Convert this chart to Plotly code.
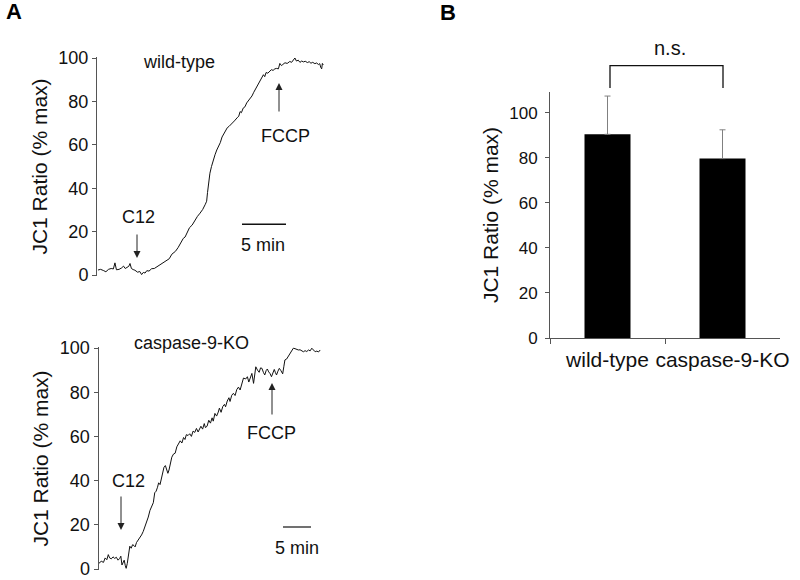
import plotly.graph_objects as go

# ---------------- data ----------------
# Panel A (top): wild-type JC1 trace, time in minutes
wt_time = [0.0, 0.3, 0.6, 0.9, 1.2, 1.5, 1.75, 1.93, 2.1, 2.4, 2.7, 2.9, 3.1, 3.3, 3.5, 3.64, 3.8, 4.0,
           4.2, 4.5, 4.75, 4.96, 5.15, 5.35, 5.55, 5.8, 6.1, 6.4, 6.7, 7.0, 7.4, 7.8, 8.1, 8.4, 8.8,
           9.1, 9.4, 9.7, 9.9, 10.1, 10.4, 10.7, 11.0, 11.3, 11.6, 11.9, 12.2, 12.35, 12.45, 12.55,
           12.72, 12.9, 13.1, 13.3, 13.5, 13.7, 13.9, 14.1, 14.3, 14.5, 14.7, 14.9, 15.2, 15.5, 15.8,
           16.0, 16.15, 16.3, 16.5, 16.7, 16.9, 17.1, 17.3, 17.5, 17.7, 17.95, 18.2, 18.4, 18.6, 18.8,
           18.95, 19.1, 19.3, 19.5, 19.7, 19.9, 20.1, 20.3, 20.5, 20.67, 20.85, 21.0, 21.25, 21.5,
           21.8, 22.0, 22.2, 22.38, 22.55, 22.76, 22.95, 23.15, 23.35, 23.55, 23.8, 24.0, 24.2, 24.4,
           24.65, 24.85, 25.05, 25.2, 25.32, 25.42, 25.5, 25.6]
wt_ratio = [2.3, 2.6, 2.1, 1.5, 2.6, 3.0, 2.8, 5.6, 2.4, 2.6, 3.3, 4.1, 3.0, 3.4, 4.0, 5.3, 3.0, 2.5,
            2.2, 1.3, 1.6, 0.2, 1.2, 0.9, 2.0, 1.8, 2.9, 3.0, 3.8, 4.4, 5.6, 6.8, 7.5, 9.6, 10.9,
            12.6, 14.6, 16.9, 17.5, 19.6, 21.8, 23.0, 25.3, 27.0, 28.5, 30.2, 32.6, 34.0, 38.0, 42.3,
            46.9, 50.0, 53.0, 55.4, 57.6, 59.2, 61.0, 63.6, 65.0, 66.8, 67.9, 68.5, 70.0, 71.0, 72.4,
            73.2, 75.3, 74.8, 76.9, 77.5, 79.3, 80.2, 81.6, 82.5, 84.2, 86.0, 88.3, 89.6, 90.5, 92.3,
            91.4, 93.3, 93.0, 94.0, 94.6, 94.3, 95.0, 95.2, 95.0, 97.5, 96.5, 97.0, 97.8, 97.5,
            98.4, 98.0, 98.8, 100.0, 98.6, 99.0, 98.0, 98.6, 98.2, 98.5, 97.9, 98.3, 97.6, 98.0,
            97.4, 97.7, 97.0, 97.4, 95.6, 95.0, 97.5, 96.8]

# Panel A (bottom): caspase-9-KO JC1 trace, time in minutes
ko_time = [0.0, 0.4, 0.8, 1.1, 1.4, 1.66, 1.9, 2.2, 2.5, 2.8, 3.1, 3.4, 3.7, 3.9, 4.1, 4.3, 4.5, 4.7,
           4.85, 5.05, 5.25, 5.5, 5.75, 6.0, 6.25, 6.45, 6.7, 7.0, 7.3, 7.6, 7.9, 8.2, 8.5, 8.8, 9.1,
           9.4, 9.7, 9.95, 10.2, 10.45, 10.65, 10.9, 11.15, 11.4, 11.6, 11.85, 12.05, 12.3, 12.5,
           12.75,
           13.0, 13.3, 13.6, 13.9, 14.2, 14.5, 14.8, 15.1, 15.35, 15.6, 15.9, 16.2, 16.5, 16.8, 17.1,
           17.4, 17.7, 17.9, 18.2, 18.5, 18.8, 19.0, 19.3, 19.6, 19.9, 20.2, 20.4, 20.7, 21.0, 21.3,
           21.5, 21.8, 22.1, 22.4, 22.6, 22.9, 23.2, 23.4, 23.7, 24.0, 24.3, 24.6, 24.9, 25.2, 25.5,
           25.8,
           26.2, 26.5, 26.75, 27.0, 27.3, 27.6, 27.8, 28.0, 28.3, 28.6, 28.85, 29.1, 29.35, 29.6,
           29.85, 30.06, 30.3, 30.55, 30.8, 31.05, 31.3, 31.5, 31.7, 31.95, 32.2, 32.5, 32.8, 33.0,
           33.2, 33.5, 33.8, 34.1, 34.4, 34.7, 35.0, 35.3, 35.6, 35.9, 36.2, 36.5, 36.8, 37.1, 37.4,
           37.7, 38.0, 38.3, 38.6, 38.9, 39.2, 39.5]
ko_ratio = [2.6, 3.5, 3.0, 5.0, 4.2, 6.5, 5.0, 4.6, 5.5, 4.8, 5.3, 4.0, 4.8, 5.8, 1.8, 3.0, 4.0, 1.5,
            0.3, 2.5, 6.0, 10.3, 9.4, 11.0, 10.6, 10.0, 12.0, 13.2, 13.8, 15.4, 17.0, 19.0, 20.8, 23.5,
            26.5, 28.2, 30.0, 34.5, 35.2, 37.0, 39.0, 38.2, 41.5, 44.2, 46.0, 46.8, 45.0, 43.3, 44.8,
            48.5,
            50.6, 52.0, 52.4, 55.3, 56.5, 58.0, 57.0, 59.5, 58.6, 60.8, 60.4, 61.2, 60.0, 62.4, 61.8,
            63.6, 62.0, 62.8, 64.6, 63.3, 65.8, 64.0, 64.6, 67.3, 66.0, 68.4, 66.9, 70.4, 69.2, 71.0,
            72.8, 70.9, 73.5, 74.5, 73.4, 76.0, 77.5, 75.8, 78.6, 79.5, 78.5, 81.2, 82.3, 81.0, 84.5,
            86.4,
            86.0, 87.0, 84.6, 86.2, 88.5, 84.0, 88.0, 91.5, 90.0, 89.0, 91.0, 90.8, 89.0, 87.8,
            89.8, 90.5, 89.2, 88.4, 87.0, 89.0, 90.3, 88.9, 87.8, 89.5, 90.8, 89.7, 88.3, 91.5,
            94.6, 95.0, 96.1, 97.2, 98.8, 99.9, 99.7, 99.3, 99.1, 99.2, 98.8, 98.3, 98.8, 98.4, 99.1,
            98.7, 99.9, 99.0, 98.3, 98.6, 98.2, 99.1]

# Panel B: bar chart
bar_categories = ["wild-type", "caspase-9-KO"]
bar_means = [90.5, 79.7]
bar_errors = [17.0, 12.8]
bar_errors_minus = [0, 0]

y_ticks = [0, 20, 40, 60, 80, 100]

assert len(wt_time) == len(wt_ratio)
assert len(ko_time) == len(ko_ratio)

# ---------------- figure ----------------
FONT = "Liberation Sans, Arial, sans-serif"
AXC = "#555555"
W, H = 800, 580


def px(x):
    return x / W


def py(y):
    return 1 - y / H


fig = go.Figure()

fig.add_trace(go.Scatter(x=wt_time, y=wt_ratio, mode="lines", xaxis="x", yaxis="y",
                         line=dict(color="#111111", width=1), showlegend=False, hoverinfo="skip"))
fig.add_trace(go.Scatter(x=ko_time, y=ko_ratio, mode="lines", xaxis="x2", yaxis="y2",
                         line=dict(color="#111111", width=1), showlegend=False, hoverinfo="skip"))
fig.add_trace(go.Bar(x=bar_categories, y=bar_means, xaxis="x3", yaxis="y3", width=0.4,
                     marker=dict(color="#000000", line=dict(width=0)),
                     error_y=dict(type="data", symmetric=False, array=bar_errors,
                                  arrayminus=bar_errors_minus, color="#808080",
                                  thickness=1, width=3),
                     showlegend=False, hoverinfo="skip"))

hidden_x = dict(showline=False, showticklabels=False, showgrid=False, zeroline=False, ticks="",
                automargin=False)


def yax(domain, rng, tickfont, standoff, lbl_standoff):
    return dict(domain=domain, range=rng, showline=True, linecolor=AXC, linewidth=1,
                ticks="outside", ticklen=4, tickcolor=AXC, tickwidth=1, automargin=False,
                tickvals=y_ticks, tickfont=dict(size=tickfont, color="#111111", family=FONT),
                showgrid=False, zeroline=False, ticklabelstandoff=lbl_standoff,
                title=dict(text="JC1 Ratio (% max)", font=dict(size=21, color="#111111", family=FONT),
                           standoff=standoff))


layout = dict(
    width=W, height=H, margin=dict(l=0, r=0, t=0, b=0, pad=0, autoexpand=False),
    paper_bgcolor="white", plot_bgcolor="white",
    font=dict(family=FONT, color="#111111"),
    xaxis=dict(domain=[px(97), px(330.3)], range=[-0.11, 26.4], anchor="y", **hidden_x),
    yaxis=dict(anchor="x", **yax([py(276.085), py(56.915)], [-0.5, 100.5], 18, 5, 0)),
    xaxis2=dict(domain=[px(98.5), px(325.8)], range=[-0.09, 40.5], anchor="y2", **hidden_x),
    yaxis2=dict(anchor="x2", **yax([py(570.1), py(346.9)], [-0.5, 100.5], 18, 5, 0)),
    xaxis3=dict(domain=[px(550), px(780)], range=[-0.5, 1.5], anchor="y3", type="category",
                showline=True, linecolor=AXC, linewidth=1, ticks="outside", ticklen=5,
                tickcolor=AXC, tickson="boundaries", showgrid=False, zeroline=False,
                automargin=False, tickangle=0, ticklabelstandoff=3,
                tickfont=dict(size=21, color="#111111", family=FONT)),
    yaxis3=dict(anchor="x3", **yax([py(338), py(92)], [0, 109.3], 17, 4, 4)),
)
fig.update_layout(**layout)

txt = dict(size=18, color="#111111", family=FONT)
annotations = [
    dict(x=px(14.5), y=py(11.5), text="<b>A</b>", font=dict(size=22, color="#000", family=FONT)),
    dict(x=px(448), y=py(12.5), text="<b>B</b>", font=dict(size=22, color="#000", family=FONT)),
    # top trace
    dict(x=px(179), y=py(62), text="wild-type", font=txt),
    dict(x=px(138), y=py(217), text="C12", font=txt),
    dict(x=px(285), y=py(136), text="FCCP", font=txt),
    dict(x=px(263), y=py(245), text="5 min", font=txt),
    # bottom trace
    dict(x=px(191), y=py(343), text="caspase-9-KO", font=txt),
    dict(x=px(128), y=py(481), text="C12", font=txt),
    dict(x=px(271), y=py(433), text="FCCP", font=txt),
    dict(x=px(297), y=py(548), text="5 min", font=txt),
    # bar chart
    dict(x=px(670), y=py(48), text="n.s.", font=dict(size=20, color="#111111", family=FONT)),
]
for a in annotations:
    a.update(xref="paper", yref="paper", showarrow=False, xanchor="center", yanchor="middle")

arrows = [
    (137, 258, -25),
    (279, 83, 30),
    (121, 530, -35),
    (272, 383, 33),
]
for (ax_, ay_, off) in arrows:
    annotations.append(dict(x=px(ax_), y=py(ay_), xref="paper", yref="paper", text="",
                            showarrow=True, ax=0, ay=off, arrowhead=2, arrowsize=1.4,
                            arrowwidth=1, arrowcolor="#222222"))
fig.update_layout(annotations=annotations)

shapes = [
    dict(type="line", x0=px(242), x1=px(286), y0=py(224.3), y1=py(224.3),
         line=dict(color="#111111", width=1.5)),
    dict(type="line", x0=px(283), x1=px(311), y0=py(527), y1=py(527),
         line=dict(color="#111111", width=1.2)),
    dict(type="path",
         path=f"M {px(610)} {py(88)} L {px(610)} {py(65.7)} L {px(723)} {py(65.7)} L {px(723)} {py(88)}",
         line=dict(color="#111111", width=1.3)),
]
for s in shapes:
    s.update(xref="paper", yref="paper")
fig.update_layout(shapes=shapes)

fig.write_html("out.html", config={"displayModeBar": False},
               post_script="document.body.style.margin='0';document.body.style.overflow='hidden';")
